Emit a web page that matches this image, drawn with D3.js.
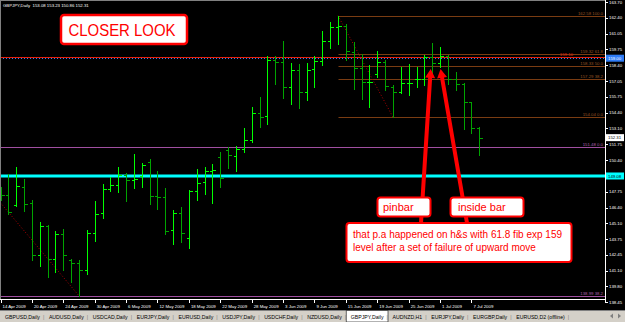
<!DOCTYPE html>
<html>
<head>
<meta charset="utf-8">
<script src="https://cdn.jsdelivr.net/npm/d3@7"></script>
<style>
html, body { margin:0; padding:0; background:#000; }
svg { display:block; }
</style>
</head>
<body>
<script>
// GBPJPY daily bars, 14 Apr 2009 .. 8 Jul 2009
var days = ["2009-04-14","2009-04-15","2009-04-16","2009-04-17","2009-04-20","2009-04-21","2009-04-22","2009-04-23","2009-04-24","2009-04-27","2009-04-28","2009-04-29","2009-04-30",
  "2009-05-01","2009-05-04","2009-05-05","2009-05-06","2009-05-07","2009-05-08","2009-05-11","2009-05-12","2009-05-13","2009-05-14","2009-05-15","2009-05-18","2009-05-19","2009-05-20","2009-05-21","2009-05-22","2009-05-25","2009-05-26","2009-05-27","2009-05-28","2009-05-29",
  "2009-06-01","2009-06-02","2009-06-03","2009-06-04","2009-06-05","2009-06-08","2009-06-09","2009-06-10","2009-06-11","2009-06-12","2009-06-15","2009-06-16","2009-06-17","2009-06-18","2009-06-19","2009-06-22","2009-06-23","2009-06-24","2009-06-25","2009-06-26","2009-06-29","2009-06-30",
  "2009-07-01","2009-07-02","2009-07-03","2009-07-06","2009-07-07","2009-07-08"];
var opens  = [147.90,147.48,146.64,148.15,146.81,142.43,144.87,142.09,144.20,142.01,141.76,141.17,144.28,145.97,147.99,148.32,149.17,148.74,149.08,150.26,147.40,147.31,144.53,145.97,143.86,147.82,148.58,149.50,150.68,151.27,150.77,151.35,152.11,154.39,154.13,158.85,158.68,156.57,158.01,156.15,158.09,158.76,160.45,161.63,161.71,159.52,158.17,156.99,157.67,158.68,156.57,156.15,156.91,157.25,157.25,159.10,158.60,159.18,157.25,156.83,155.31,153.08];
var highs  = [148.15,149.25,149.84,148.83,147.06,145.21,144.95,144.45,144.62,142.09,142.01,144.53,146.98,148.41,148.99,149.84,149.33,150.93,150.18,150.51,149.50,148.07,146.22,146.47,147.90,149.67,149.84,150.09,151.10,151.52,151.61,153.12,154.89,155.73,159.18,159.18,160.45,158.60,158.51,158.60,159.18,161.29,162.05,162.58,161.88,160.36,159.35,158.43,159.61,158.85,156.74,158.26,158.51,158.26,159.27,160.28,159.94,159.27,157.84,156.91,155.31,153.23];
var lows   = [147.06,145.88,146.55,146.13,142.01,141.50,140.58,141.00,141.17,140.16,138.99,140.83,143.61,145.54,147.82,147.73,146.98,148.07,148.15,146.72,146.30,144.20,143.36,143.52,143.02,147.06,147.57,146.81,148.15,149.75,149.50,151.10,151.94,153.21,153.46,156.83,155.65,155.14,154.81,155.48,156.57,158.43,159.86,160.20,158.85,156.41,155.56,154.89,157.42,156.32,154.04,156.07,155.90,156.57,156.74,157.75,158.26,156.83,156.32,153.04,152.70,150.86];
var closes = [147.48,146.05,148.24,146.72,142.43,144.87,142.09,144.20,142.43,141.76,141.17,144.28,145.88,147.99,148.32,149.17,148.74,148.83,150.01,147.40,147.31,144.45,145.97,144.28,147.82,148.49,149.50,149.59,148.91,150.85,151.35,152.11,154.39,154.05,158.85,158.68,156.57,158.01,156.15,158.01,158.76,160.45,161.63,161.71,159.61,158.17,156.99,157.00,158.68,156.66,156.15,156.91,156.91,157.25,159.10,158.60,159.18,157.25,156.83,155.31,153.08,152.31];

var priceTicks = [163.70,162.40,161.05,159.75,158.40,157.05,155.75,154.40,153.10,151.75,150.40,147.75,146.40,145.10,143.75,142.45,141.10,139.80,138.45];

// fibo drawn from the 11 Jun high to the 24 Jun low
var fibLevels = ["100.0","61.8","50.0","38.2","0.0"];
var fibPrices = [162.58,159.32,158.33,157.29,154.04];
var fibFrom = 43, fibTo = 50;
// second fibo (purple)
var fib2Levels = ["0.0","38.2"];
var fib2Prices = [151.48,138.99];
var trendIdx = [-3,10];
var trendPrices = [149.17,138.99];

var supportPrice = 149.08;
var redLinePrice = 159.10;
var blueLinePrice = 159.00;

var tabNames = ["GBPUSD,Daily","AUDUSD,Daily","USDCAD,Daily","EURJPY,Daily","EURUSD,Daily","USDJPY,Daily","USDCHF,Daily","NZDUSD,Daily","GBPJPY,Daily","AUDNZD,H1","EURJPY,Daily","EURGBP,Daily","EURUSD,D2 (offline)"];
var activeTab = 8;

var W = 625, H = 322;
var plotR = 605, plotB = 299;
var upColor = "#00ff00", downColor = "#00a400";
var font = "'Liberation Sans', Arial, sans-serif";

var svg = d3.select("body").append("svg")
  .attr("width", W).attr("height", H)
  .style("font-family", font);

svg.append("rect").attr("width", W).attr("height", H).attr("fill", "#000");

var x = d3.scaleLinear().domain([0, days.length - 1]).range([0.5, 479.3]);
var y = d3.scaleLinear().domain([138.45, 163.70]).range([302.2, 2.4]);
var parse = d3.timeParse("%Y-%m-%d");
var fmt = d3.timeFormat("%-d %b %Y");

function px(i) { return Math.round(x(i)) + 0.5; }
function py(p) { return Math.round(y(p)) + 0.5; }

svg.append("clipPath").attr("id", "clip")
  .append("rect").attr("x", 0).attr("y", 0).attr("width", plotR).attr("height", plotB);

var chart = svg.append("g").attr("clip-path", "url(#clip)");

// horizontal levels
chart.append("line").attr("x1", 0).attr("x2", plotR)
  .attr("y1", py(redLinePrice)).attr("y2", py(redLinePrice))
  .attr("stroke", "#e8200c").attr("stroke-width", 1);
chart.append("line").attr("x1", 0).attr("x2", plotR)
  .attr("y1", py(blueLinePrice)).attr("y2", py(blueLinePrice))
  .attr("stroke", "#2f7cf6").attr("stroke-dasharray", "1,2");
chart.append("line").attr("x1", 0).attr("x2", plotR)
  .attr("y1", y(supportPrice)).attr("y2", y(supportPrice))
  .attr("stroke", "#00ffff").attr("stroke-width", 3);

fib2Prices.forEach(function(p, k) {
  chart.append("line").attr("x1", 0).attr("x2", plotR)
    .attr("y1", py(p)).attr("y2", py(p)).attr("stroke", "#a04fa0");
  chart.append("text").attr("x", plotR - 2).attr("y", py(p) - 1.5)
    .attr("text-anchor", "end").attr("font-size", 4.3).attr("fill", "#b060b0")
    .text(p.toFixed(2) + "  " + fib2Levels[k]);
});

fibPrices.forEach(function(p, k) {
  chart.append("line").attr("x1", px(fibFrom)).attr("x2", plotR)
    .attr("y1", py(p)).attr("y2", py(p)).attr("stroke", "#7a3c12");
  chart.append("text").attr("x", plotR - 2).attr("y", py(p) - 1.5)
    .attr("text-anchor", "end").attr("font-size", 4.3).attr("fill", "#9a5424")
    .text(p.toFixed(2) + "  " + fibLevels[k]);
});

chart.append("text").attr("x", 573).attr("y", py(redLinePrice) - 1.5)
  .attr("text-anchor", "end").attr("font-size", 4.3).attr("fill", "#e8200c")
  .text(redLinePrice.toFixed(2));

// dotted trendlines
chart.append("line")
  .attr("x1", x(fibFrom)).attr("y1", y(fibPrices[0]))
  .attr("x2", x(fibTo)).attr("y2", y(fibPrices[4]))
  .attr("stroke", "#b00000").attr("stroke-dasharray", "1,2");
chart.append("line")
  .attr("x1", x(trendIdx[0])).attr("y1", y(trendPrices[0]))
  .attr("x2", x(trendIdx[1])).attr("y2", y(trendPrices[1]))
  .attr("stroke", "#b00000").attr("stroke-dasharray", "1,2");

// OHLC bars
var bars = chart.selectAll("g.bar").data(d3.range(days.length)).enter().append("g")
  .attr("class", "bar")
  .attr("stroke", function(i) { return closes[i] < opens[i] ? downColor : upColor; })
  .attr("shape-rendering", "crispEdges");
bars.append("line")
  .attr("x1", px).attr("x2", px)
  .attr("y1", function(i) { return Math.round(y(highs[i])); })
  .attr("y2", function(i) { return Math.round(y(lows[i])) + 1; });
bars.append("line")
  .attr("x1", function(i) { return px(i) - 3; }).attr("x2", px)
  .attr("y1", function(i) { return py(opens[i]); }).attr("y2", function(i) { return py(opens[i]); });
bars.append("line")
  .attr("x1", px).attr("x2", function(i) { return px(i) + 3; })
  .attr("y1", function(i) { return py(closes[i]); }).attr("y2", function(i) { return py(closes[i]); });

// frame
svg.append("line").attr("x1", 0.5).attr("x2", 0.5).attr("y1", 0).attr("y2", plotB).attr("stroke", "#808080");
svg.append("line").attr("x1", 0).attr("x2", plotR).attr("y1", 0.5).attr("y2", 0.5).attr("stroke", "#808080");

// price axis
var axisG = svg.append("g");
axisG.append("line").attr("x1", plotR + 0.5).attr("x2", plotR + 0.5).attr("y1", 0).attr("y2", 303)
  .attr("stroke", "#ffffff");
axisG.selectAll("g.pt").data(priceTicks).enter().append("g").attr("class", "pt")
  .each(function(p) {
    var g = d3.select(this);
    g.append("line").attr("x1", plotR).attr("x2", plotR + 3)
      .attr("y1", py(p)).attr("y2", py(p)).attr("stroke", "#fff");
    g.append("text").attr("x", plotR + 4).attr("y", y(p) + 1.6)
      .attr("font-size", 4.3).attr("fill", "#fff").text(p.toFixed(2));
  });

function priceBox(p, fill, color) {
  axisG.append("rect").attr("x", plotR + 1).attr("y", y(p) - 3.5)
    .attr("width", 18).attr("height", 7).attr("fill", fill);
  axisG.append("text").attr("x", plotR + 3).attr("y", y(p) + 1.6)
    .attr("font-size", 4.3).attr("fill", color).text(p.toFixed(2));
}
priceBox(blueLinePrice, "#2f7cf6", "#fff");
priceBox(closes[closes.length - 1], "#fff", "#000");
priceBox(supportPrice, "#00ffff", "#000");

// time axis
svg.append("line").attr("x1", 0).attr("x2", plotR + 1).attr("y1", plotB + 0.5).attr("y2", plotB + 0.5)
  .attr("stroke", "#fff");
var tIdx = d3.range(0, days.length, 4);
var tg = svg.selectAll("g.tt").data(tIdx).enter().append("g").attr("class", "tt");
tg.append("line").attr("x1", px).attr("x2", px).attr("y1", plotB).attr("y2", plotB + 4).attr("stroke", "#fff");
tg.append("text").attr("x", function(i) { return x(i) + 2; }).attr("y", 307.5)
  .attr("font-size", 4.3).attr("fill", "#fff")
  .text(function(i) { return fmt(parse(days[i])); });

// header
svg.append("text").attr("x", 3).attr("y", 6.5).attr("font-size", 4.3).attr("fill", "#fff")
  .attr("xml:space", "preserve")
  .text("GBPJPY,Daily  " + [opens, highs, lows, closes].map(function(a) { return a[a.length - 1].toFixed(2); }).join(" "));

// tab bar
var tabs = svg.append("g");
tabs.append("rect").attr("x", 0).attr("y", 310).attr("width", W).attr("height", 12).attr("fill", "#d4d0c8");
tabs.append("line").attr("x1", 0).attr("x2", W).attr("y1", 310.5).attr("y2", 310.5).attr("stroke", "#808080");
var cx = 5;
tabNames.forEach(function(name, k) {
  var t = tabs.append("text").attr("x", cx).attr("y", 318.5).attr("font-size", 5.2).attr("fill", "#000").text(name);
  var w = t.node().getComputedTextLength();
  if (k === activeTab) {
    tabs.insert("rect", "text").attr("x", cx - 4.5).attr("y", 310.5).attr("width", w + 9).attr("height", 11.5)
      .attr("fill", "#fff").attr("stroke", "#404040").attr("stroke-width", 0.8);
  }
  tabs.append("text").attr("x", cx + w + 3).attr("y", 318.5).attr("font-size", 5.2).attr("fill", "#808080").text("|");
  cx += w + 9;
});
tabs.append("path").attr("d", "M610,316 l3,-2.5 v5 z").attr("fill", "#808080");
tabs.append("path").attr("d", "M621,316 l-3,-2.5 v5 z").attr("fill", "#808080");

// annotations
var red = "#ff0000";
var ann = svg.append("g");
function arrow(x0, y0, x1, y1) {
  var a = Math.atan2(y1 - y0, x1 - x0), len = Math.hypot(x1 - x0, y1 - y0);
  var g = ann.append("g").attr("transform", "translate(" + x0 + "," + y0 + ") rotate(" + (a * 180 / Math.PI) + ")");
  g.append("path").attr("fill", red)
    .attr("d", "M0,-2 L" + (len - 9) + ",-2 L" + (len - 9) + ",-5 L" + len + ",0 L" + (len - 9) + ",5 L" + (len - 9) + ",2 L0,2 Z");
}
arrow(421, 223, x(55) - 1.5, y(158.1));
arrow(467, 223, x(56) + 0.5, y(158.1));

function box(x0, y0, w, h, sw) {
  ann.append("rect").attr("x", x0).attr("y", y0).attr("width", w).attr("height", h).attr("rx", 3)
    .attr("fill", "#fff").attr("stroke", red).attr("stroke-width", sw);
}
box(61, 15, 126, 29, 2.5);
ann.append("text").attr("x", 68.5).attr("y", 36).attr("font-size", 17).attr("fill", red)
  .attr("textLength", 107).attr("lengthAdjust", "spacingAndGlyphs").text("CLOSER LOOK");

box(377.5, 197.5, 53, 19, 2);
ann.append("text").attr("x", 383).attr("y", 210.5).attr("font-size", 11).attr("fill", red).text("pinbar");
box(450.5, 197.5, 73, 19, 2);
ann.append("text").attr("x", 458).attr("y", 210.5).attr("font-size", 11).attr("fill", red).text("inside bar");

box(346.5, 223, 225, 39, 2);
ann.append("text").attr("x", 353).attr("y", 238).attr("font-size", 10).attr("fill", red)
  .text("that p.a happened on h&s with 61.8 fib exp 159");
ann.append("text").attr("x", 353).attr("y", 250.5).attr("font-size", 10).attr("fill", red)
  .text("level after a set of failure of upward move");
</script>
</body>
</html>
